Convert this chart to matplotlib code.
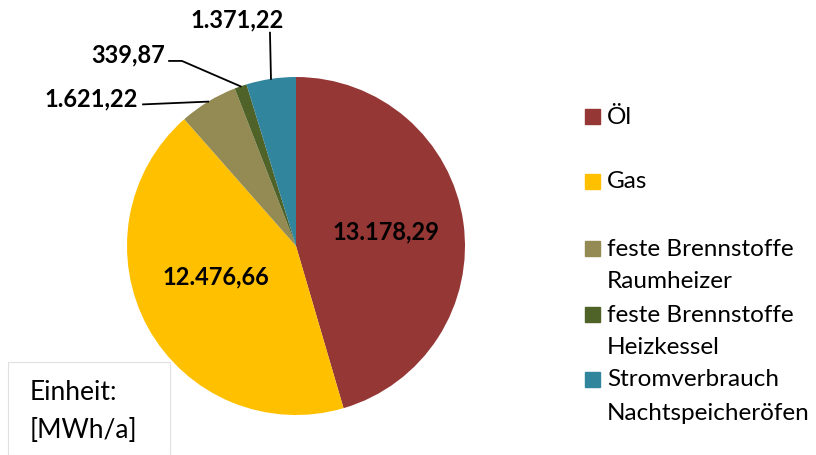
import numpy as np
import matplotlib
matplotlib.use("Agg")
import matplotlib.pyplot as plt
from matplotlib.patches import Rectangle

plt.rcParams['font.family'] = ['Lato', 'DejaVu Sans']

categories = ["Öl", "Gas", "feste Brennstoffe\nRaumheizer",
              "feste Brennstoffe\nHeizkessel", "Stromverbrauch\nNachtspeicheröfen"]
values = [13178.29, 12476.66, 1621.22, 339.87, 1371.22]
colors = ["#953735", "#FFC000", "#948A54", "#4F6228", "#31859C"]


def de_fmt(v):
    s = f"{v:,.2f}"
    return s.replace(",", "X").replace(".", ",").replace("X", ".")


fig = plt.figure(figsize=(8.16, 4.55), dpi=100)
# pie centre ~ (296, 246) px, radius ~169 px
ax = fig.add_axes([127 / 816, 40 / 455, 338 / 816, 338 / 455])
wedges, _ = ax.pie(values, colors=colors, startangle=90, counterclock=False,
                   radius=1.0, wedgeprops=dict(linewidth=0))
ax.set_xlim(-1, 1)
ax.set_ylim(-1, 1)
ax.set_aspect("equal")
ax.axis("off")

# label positions (data units, radius = 1)
inner_pos = {0: (0.533, 0.083), 1: (-0.473, -0.183)}
for i, (x, y) in inner_pos.items():
    ax.text(x, y, de_fmt(values[i]), ha="center", va="center",
            fontsize=17, fontweight="bold", color="black")

outer = {
    2: dict(text=(-1.213, 0.870), path=[(-0.905, 0.838)]),
    3: dict(text=(-0.994, 1.130), path=[(-0.751, 1.095), (-0.675, 1.095)]),
    4: dict(text=(-0.349, 1.337), path=[(-0.154, 1.262)]),
}
for i, o in outer.items():
    w = wedges[i]
    mid = np.deg2rad((w.theta1 + w.theta2) / 2)
    edge = (np.cos(mid), np.sin(mid))
    pts = o["path"] + [edge]
    ax.plot([p[0] for p in pts], [p[1] for p in pts], color="black",
            lw=1.3, clip_on=False)
    ax.text(o["text"][0], o["text"][1], de_fmt(values[i]), ha="center",
            va="center", fontsize=17, fontweight="bold", color="black")

# legend
legend_y = [117, 182, 249, 315, 380]
for lab, col, y in zip(categories, colors, legend_y):
    fig.patches.append(Rectangle((585 / 816, 1 - (y + 7) / 455), 15 / 816, 15 / 455,
                                 transform=fig.transFigure, color=col))
    for k, line in enumerate(lab.split("\n")):
        fig.text(607 / 816, 1 - (y + 33 * k) / 455, line, ha="left", va="center",
                 fontsize=17.5, transform=fig.transFigure)

# unit box
fig.patches.append(Rectangle((8 / 816, 0), 162 / 816, 1 - 362 / 455, transform=fig.transFigure,
                             facecolor="white", edgecolor="#e0e0e0", lw=0.8))
fig.text(30 / 816, 1 - 393 / 455, "Einheit:", ha="left", va="center", fontsize=19)
fig.text(30 / 816, 1 - 430 / 455, "[MWh/a]", ha="left", va="center", fontsize=19)

fig.savefig("out.png", dpi=100)
